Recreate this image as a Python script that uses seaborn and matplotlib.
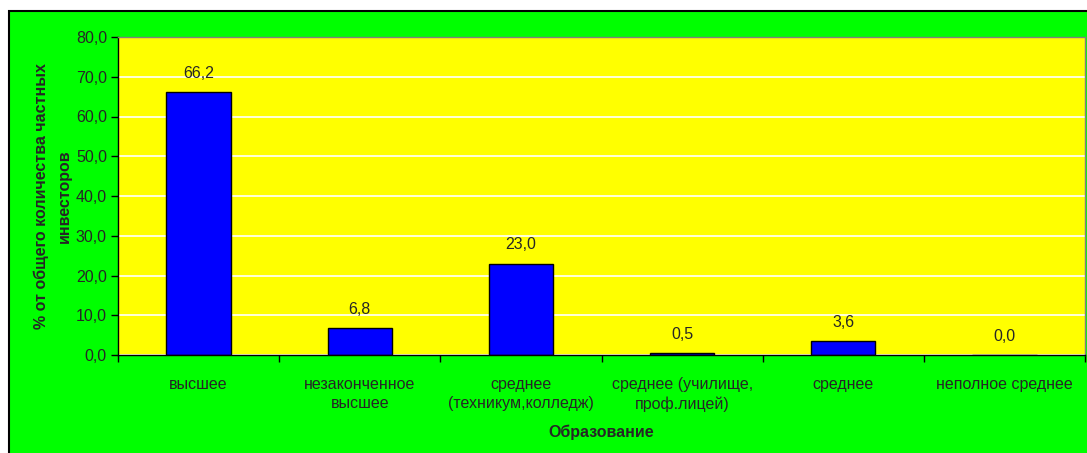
import matplotlib
matplotlib.use('Agg')
import matplotlib.pyplot as plt
import seaborn as sns
import pandas as pd
from matplotlib.patches import Rectangle

categories = ['высшее', 'незаконченное\nвысшее', 'среднее\n(техникум,колледж)',
              'среднее (училище,\nпроф.лицей)', 'среднее', 'неполное среднее']
values = [66.2, 6.8, 23.0, 0.5, 3.6, 0.0]
y_ticks = [0, 10, 20, 30, 40, 50, 60, 70, 80]

df = pd.DataFrame({'cat': categories, 'val': values})

sns.set_theme(style='white')
plt.rcParams['font.family'] = ['Liberation Sans', 'DejaVu Sans']
FS = 11.5

fig = plt.figure(figsize=(10.87, 4.53), dpi=100)
fig.patch.set_facecolor('white')
# green chart area, frame only on the left and top (runs off the image)
fig.patches.append(Rectangle((9 / 1087, -0.05), 1.1, 1 - 11 / 453 + 0.05,
                             transform=fig.transFigure, facecolor='#00ff00',
                             edgecolor='black', linewidth=1.5, zorder=-10))

ax = fig.add_axes([118 / 1087, 1 - 355 / 453, (1085 - 118) / 1087, (355 - 37) / 453])
ax.set_facecolor('#ffff00')

sns.barplot(data=df, x='cat', y='val', ax=ax, color='#0000ff', width=0.4,
            edgecolor='black', linewidth=1, saturation=1)

ax.set_ylim(0, 80)
ax.set_xlim(-0.5, len(categories) - 0.5)
ax.set_yticks(y_ticks)
ax.set_yticklabels([f'{t:.1f}'.replace('.', ',') for t in y_ticks], fontsize=FS)
ax.yaxis.grid(True, color='white', linewidth=1.2)
ax.set_axisbelow(True)

ax.set_xticks(range(len(categories)))
ax.set_xticklabels(categories, fontsize=FS, linespacing=1.35)
ax.tick_params(axis='x', length=0, pad=16)
ax.tick_params(axis='y', length=5, width=1, color='black', left=True, pad=3)
# tick marks between categories
ax.set_xticks([i - 0.5 for i in range(len(categories) + 1)], minor=True)
ax.tick_params(axis='x', which='minor', length=5, width=1, color='black', bottom=True)

for c in ax.containers:
    ax.bar_label(c, labels=[f'{v:.1f}'.replace('.', ',') for v in values],
                 padding=8, fontsize=FS)

for s in ['left', 'bottom']:
    ax.spines[s].set_color('black')
    ax.spines[s].set_linewidth(1)
for s in ['top', 'right']:
    ax.spines[s].set_color('#808080')
    ax.spines[s].set_linewidth(1)

ax.set_xlabel('Образование', fontsize=FS, fontweight='bold', labelpad=9)
ax.set_ylabel('% от общего количества частных\nинвесторов', fontsize=FS,
              fontweight='bold', labelpad=3, linespacing=1.6)

fig.savefig('out.png', dpi=100)
